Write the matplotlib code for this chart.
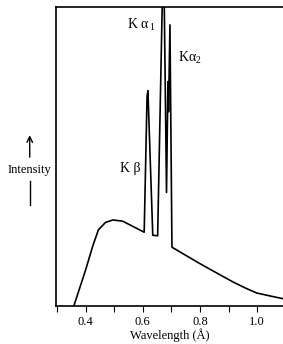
import numpy as np
import matplotlib.pyplot as plt

# wavelength (Angstrom) and intensity (arbitrary, 100 = top of frame)
wavelength = [0.359, 0.40, 0.425, 0.445, 0.47, 0.496, 0.53, 0.605, 0.615, 0.618, 0.635,
              0.652, 0.670, 0.674, 0.683, 0.688, 0.690, 0.695, 0.702,
              0.75, 0.80, 0.86, 0.917, 0.96, 0.998, 1.05, 1.09]
intensity = [0.0, 12.0, 20.0, 25.5, 28.0, 28.8, 28.4, 24.7, 70.0, 72.0, 23.7,
             23.5, 110.0, 110.0, 38.0, 75.0, 65.0, 94.0, 19.7,
             17.0, 14.2, 11.0, 8.0, 6.0, 4.4, 3.3, 2.5]

peak_labels = ["K α$_{\\,1}$", "Kα$_{2}$", "K β"]
peak_pos = [(0.545, 94), (0.722, 83), (0.520, 46)]

plt.rcParams["font.family"] = "Liberation Serif"
plt.rcParams["mathtext.fontset"] = "custom"
plt.rcParams["mathtext.rm"] = "Liberation Serif"
plt.rcParams["mathtext.it"] = "Liberation Serif"

fig = plt.figure(figsize=(2.83, 3.44), dpi=100)
ax = fig.add_axes([0.198, 0.110, 0.802, 0.870])

ax.plot(wavelength, intensity, c="k", lw=1.2)

ax.set_xlim(0.297, 1.09)
ax.set_ylim(0, 100)
ax.spines["right"].set_visible(False)
for s in ["left", "top", "bottom"]:
    ax.spines[s].set_linewidth(1.2)

ax.set_xticks([0.4, 0.6, 0.8, 1.0])
ax.set_xticklabels(["0.4", "0.6", "0.8", "1.0"], fontsize=9)
ax.set_xticks([0.3, 0.5, 0.7, 0.9], minor=True)
ax.tick_params(axis="x", which="both", direction="out", length=4, width=0.8, pad=3)
ax.set_yticks([])
ax.set_xlabel("Wavelength (Å)", fontsize=9, labelpad=0)

for lab, (x, y) in zip(peak_labels, peak_pos):
    ax.text(x, y, lab, fontsize=10, ha="left", va="center")

fig.text(0.105, 0.505, "Intensity", fontsize=9, ha="center", va="center")
fig.add_artist(plt.matplotlib.patches.FancyArrowPatch(
    (0.105, 0.535), (0.105, 0.615), transform=fig.transFigure,
    arrowstyle="->", mutation_scale=10, lw=1.0, color="k"))
fig.add_artist(plt.Line2D([0.105, 0.105], [0.405, 0.475],
                          transform=fig.transFigure, c="k", lw=1.0))

plt.savefig("out.png", dpi=100)
